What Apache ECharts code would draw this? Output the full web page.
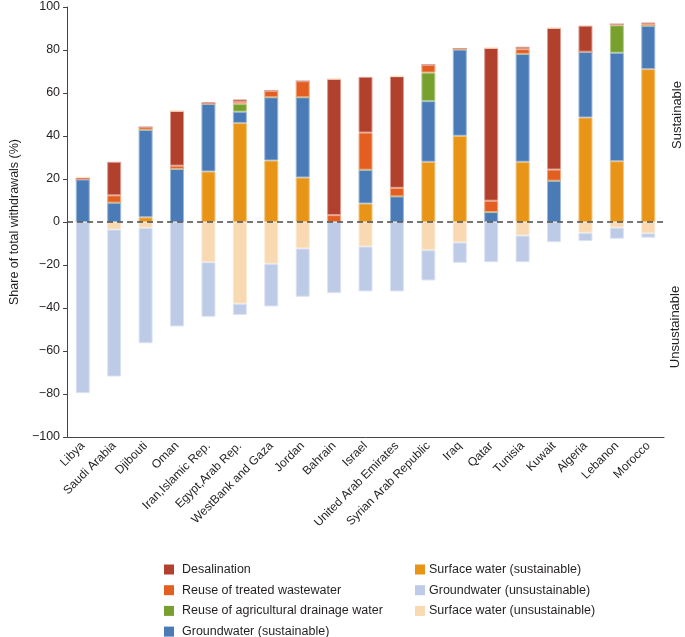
<!DOCTYPE html>
<html><head><meta charset="utf-8">
<script src="https://cdn.jsdelivr.net/npm/echarts@6/dist/echarts.min.js"></script>
<style>html,body{margin:0;padding:0;background:#fff}#c{width:685px;height:637px}</style>
</head><body><div id="c"></div>
<script>
const categories = ['Libya','Saudi Arabia','Djibouti','Oman','Iran,Islamic Rep.','Egypt,Arab Rep.','WestBank and Gaza','Jordan','Bahrain','Israel','United Arab Emirates','Syrian Arab Republic','Iraq','Qatar','Tunisia','Kuwait','Algeria','Lebanon','Morocco'];
const surfaceSust   = [0, 0, 2.2, 0, 23.5, 46, 28.6, 20.7, 0, 8.6, 0, 28, 40.1, 0, 28, 0, 48.6, 28.3, 71.1];
const groundSust    = [19.8, 9, 40.7, 24.7, 31.5, 5.3, 29.4, 37.3, 0, 15.7, 11.9, 28.2, 40.1, 4.6, 50.2, 19.2, 30.6, 50.4, 20.2];
const agriDrainage  = [0, 0, 0, 0, 0, 3.7, 0, 0, 0, 0, 0, 13.3, 0, 0, 0, 0, 0, 12.8, 0];
const reuseWaste    = [0, 3.4, 1.2, 1.5, 0, 0.9, 3, 7.5, 3.2, 17.3, 4, 3.6, 0.5, 5.3, 2.2, 5.2, 0, 0.5, 0.7];
const desalination  = [1, 15.6, 0, 25.5, 0.7, 1.1, 0, 0, 63.4, 25.9, 51.9, 0, 0, 71.1, 1.1, 65.9, 12.1, 0, 0.8];
const surfaceUnsust = [0, -3.5, -2.7, 0, -18.7, -38, -19.4, -12.3, 0, -11.4, 0, -13.1, -9.5, 0, -6.3, 0, -5, -2.6, -5.3];
const groundUnsust  = [-79.6, -68.4, -53.7, -48.6, -25.4, -5.2, -19.9, -22.5, -33.1, -20.9, -32.3, -14.1, -9.5, -18.7, -12.4, -9.4, -3.9, -5.2, -2];
const yMin = -100, yMax = 100, yStep = 20;

const F = 'Liberation Sans, Arial, Helvetica, sans-serif';
const TXT = '#231f20';
function bar(name, data, color, border, extra) {
  return Object.assign({
    name, type: 'bar', stack: 'total', data, barWidth: 14,
    itemStyle: { color, borderColor: border, borderWidth: 1 },
    emphasis: { disabled: true }
  }, extra || {});
}
const legendCommon = {
  orient: 'vertical', top: 563, height: 120, padding: 0, itemWidth: 10, itemHeight: 10, itemGap: 7.7,
  selectedMode: false, icon: 'rect', itemStyle: { borderWidth: 0 }
};
const chart = echarts.init(document.getElementById('c'), null, { renderer: 'canvas' });
chart.setOption({
  animation: false,
  textStyle: { fontFamily: F },
  grid: { left: 50, right: 21, top: 7, bottom: 200, containLabel: false },
  legend: [
    Object.assign({ data: ['Desalination','Reuse of treated wastewater','Reuse of agricultural drainage water','Groundwater (sustainable)'],
      left: 164, textStyle: { fontFamily: F, fontSize: 12.5, color: TXT, lineHeight: 12, padding: [0,0,0,3] } }, legendCommon),
    Object.assign({ data: ['Surface water (sustainable)','Groundwater (unsustainable)','Surface water (unsustainable)'],
      left: 415, textStyle: { fontFamily: F, fontSize: 12.5, color: TXT, lineHeight: 12, padding: [0,0,0,-1] } }, legendCommon)
  ],
  xAxis: {
    type: 'category', data: categories,
    axisLine: { onZero: false, lineStyle: { color: '#444', width: 1 } },
    axisTick: { length: 4, lineStyle: { color: '#444' } },
    axisLabel: { interval: 0, rotate: 45, fontSize: 12, color: TXT, fontFamily: F, margin: 7 }
  },
  yAxis: {
    type: 'value', min: yMin, max: yMax, interval: yStep,
    name: 'Share of total withdrawals (%)', nameLocation: 'middle', nameGap: 46,
    nameTextStyle: { fontSize: 12.5, color: TXT, fontFamily: F },
    splitLine: { show: false },
    axisLine: { show: true, lineStyle: { color: '#444' } },
    axisTick: { show: true, length: 4, lineStyle: { color: '#444' } },
    axisLabel: { fontSize: 12.5, color: TXT, fontFamily: F, margin: 7,
      formatter: v => v < 0 ? '\u2212' + Math.abs(v) : String(v) }
  },
  series: [
    bar('Surface water (sustainable)', surfaceSust, '#E89417', '#F2C27A'),
    bar('Groundwater (sustainable)', groundSust, '#4A7BB6', '#9CB8DA'),
    bar('Reuse of agricultural drainage water', agriDrainage, '#77A02F', '#B5CD8A'),
    bar('Reuse of treated wastewater', reuseWaste, '#E35F21', '#F3A884'),
    bar('Desalination', desalination, '#B1402C', '#DB9C90'),
    bar('Surface water (unsustainable)', surfaceUnsust, '#F8D9B1', '#FBE9D2'),
    bar('Groundwater (unsustainable)', groundUnsust, '#BECBE6', '#DCE4F2', {
      markLine: { silent: true, symbol: 'none', label: { show: false },
        lineStyle: { color: '#4a4a4a', type: [6, 4], width: 1.5 },
        data: [{ yAxis: 0 }] }
    })
  ],
  graphic: [
    { type: 'text', x: 677, y: 115, rotation: Math.PI / 2,
      style: { text: 'Sustainable', font: '13px ' + F, fill: TXT, align: 'center', verticalAlign: 'middle' } },
    { type: 'text', x: 675, y: 327, rotation: Math.PI / 2,
      style: { text: 'Unsustainable', font: '13px ' + F, fill: TXT, align: 'center', verticalAlign: 'middle' } }
  ]
});
</script></body></html>
